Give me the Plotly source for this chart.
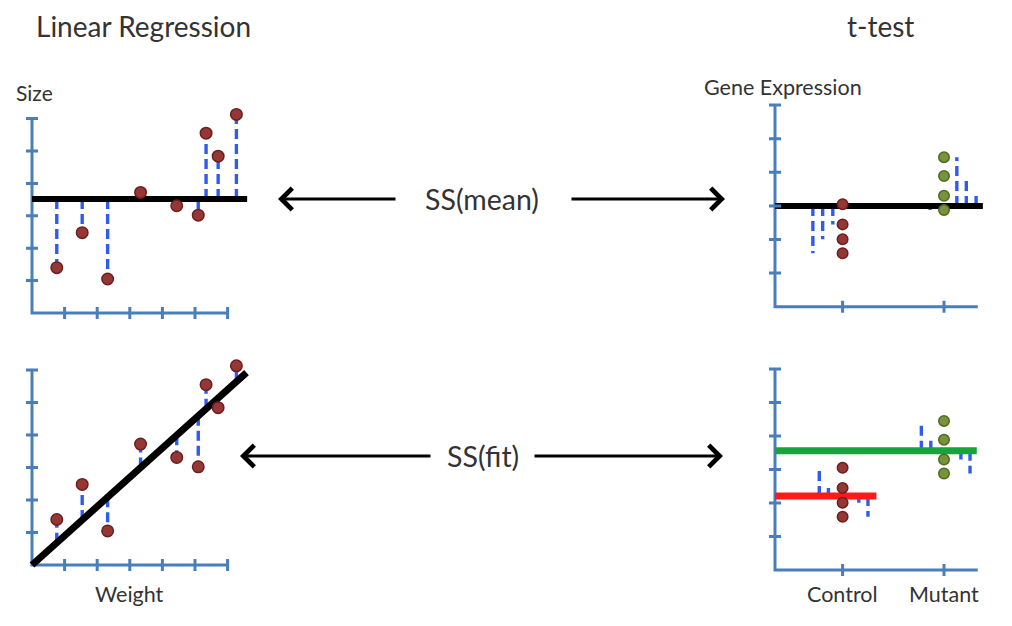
import plotly.graph_objects as go

# browser body has an 8px margin; figure sized to fit inside the 1012x626 window
OFF = 8
W, H = 1012 - 2 * OFF, 626 - 2 * OFF

# ---------------- data ----------------
# Linear regression (same points in both left panels)
weight = [0.76, 1.54, 2.32, 3.33, 4.44, 5.10, 5.34, 5.71, 6.27]
size = [1.40, 2.48, 1.05, 3.72, 3.31, 3.02, 5.55, 4.84, 6.13]
size_mean = 3.52
mean_line_end = 6.6
fit_slope = 0.90
fit_intercept = 0.0
fit_line_end = 6.58
lr_ticks = [1, 2, 3, 4, 5, 6]

# t-test
group_x = [2, 5]
group_labels = ["Control", "Mutant"]
control = [3.05, 2.45, 2.01, 1.59]
mutant = [4.45, 3.89, 3.30, 2.88]
overall_mean = 3.0
overall_line_end = 6.15
control_mean = 2.21
control_line_end = 3.0
mutant_mean = 3.56
mutant_line_end = 5.97
tt_y_ticks = [1, 2, 3, 4, 5, 6]
# horizontal spots where the residuals are drawn (one per point)
ctrl_resid_x_top = [2.39, 1.71, 1.41, 1.12]
mut_resid_x_top = [5.38, 5.66, 5.95, 4.59]
ctrl_resid_x_bot = [1.31, 1.58, 2.48, 2.75]
mut_resid_x_bot = [4.33, 4.61, 5.50, 5.77]

# ---------------- styles ----------------
AXIS_C = "#4a7ebb"
DASH_C = "#2f5cf0"
RED_F, RED_L = "#953735", "#6b1f1f"
GRN_F, GRN_L = "#77933c", "#4f6b22"
TXT = "#333333"
FONT = "Lato"

XR = [-0.5, 7.0]
YR = [-0.5, 6.6]

# panel origins (window pixels) and units (pixels per unit)
panels = {
    1: dict(ox=32, oy=313, ux=32.6, uy=32.4),
    2: dict(ox=32, oy=565, ux=32.6, uy=32.5),
    3: dict(ox=775, oy=306.7, ux=33.8, uy=33.6),
    4: dict(ox=775, oy=570, ux=33.8, uy=33.5),
}


def fx(px):
    return (px - OFF) / W


def fy(py):
    return 1 - (py - OFF) / H


fig = go.Figure()
layout_axes = {}
for i, p in panels.items():
    left = p["ox"] + XR[0] * p["ux"]
    right = p["ox"] + XR[1] * p["ux"]
    bot = p["oy"] - YR[0] * p["uy"]
    top = p["oy"] - YR[1] * p["uy"]
    sx = "" if i == 1 else str(i)
    xr = list(XR)
    r = fx(right)
    if r > 1:
        xr[1] = XR[0] + (XR[1] - XR[0]) * (1 - fx(left)) / (r - fx(left))
        r = 1
    layout_axes["xaxis" + sx] = dict(domain=[fx(left), r], range=xr,
                                     visible=False, anchor="y" + sx, fixedrange=True)
    layout_axes["yaxis" + sx] = dict(domain=[fy(bot), fy(top)], range=YR,
                                     visible=False, anchor="x" + sx, fixedrange=True)


def ax(i):
    s = "" if i == 1 else str(i)
    return "x" + s, "y" + s


def add_axes_frame(i, xticks, yticks):
    xa, ya = ax(i)
    fig.add_trace(go.Scatter(x=[0, 0, 6], y=[6, 0, 0], mode="lines", xaxis=xa, yaxis=ya,
                             line=dict(color=AXIS_C, width=3), hoverinfo="skip",
                             showlegend=False))
    for k in yticks:
        fig.add_shape(type="line", xref=xa, yref=ya, xsizemode="pixel", xanchor=0,
                      x0=-6, x1=6, y0=k, y1=k, line=dict(color=AXIS_C, width=3))
    for k in xticks:
        fig.add_shape(type="line", xref=xa, yref=ya, ysizemode="pixel", yanchor=0,
                      y0=-6, y1=6, x0=k, x1=k, line=dict(color=AXIS_C, width=3))


def add_resid(i, xs, ys, base):
    xa, ya = ax(i)
    px, py = [], []
    for x, y, b in zip(xs, ys, base):
        px += [x, x, None]
        py += [b, y, None]
    fig.add_trace(go.Scatter(x=px, y=py, mode="lines", xaxis=xa, yaxis=ya,
                             line=dict(color=DASH_C, width=3.4, dash="10px,5px"),
                             hoverinfo="skip", showlegend=False))


def add_line(i, x0, x1, y0, y1, color, width):
    xa, ya = ax(i)
    fig.add_trace(go.Scatter(x=[x0, x1], y=[y0, y1], mode="lines", xaxis=xa, yaxis=ya,
                             line=dict(color=color, width=width), hoverinfo="skip",
                             showlegend=False))


def add_points(i, xs, ys, fill, edge, size_px=11):
    xa, ya = ax(i)
    fig.add_trace(go.Scatter(x=xs, y=ys, mode="markers", xaxis=xa, yaxis=ya,
                             marker=dict(size=size_px, color=fill, line=dict(color=edge, width=1.5)),
                             cliponaxis=False, showlegend=False))


# ---- panel 1: linear regression, SS(mean)
add_axes_frame(1, lr_ticks, lr_ticks)
add_resid(1, weight, size, [size_mean] * len(size))
add_line(1, 0, mean_line_end, size_mean, size_mean, "black", 6)
add_points(1, weight, size, RED_F, RED_L, 11.5)

# ---- panel 2: linear regression, SS(fit)
add_axes_frame(2, lr_ticks, lr_ticks)
fit_vals = [fit_intercept + fit_slope * w for w in weight]
add_resid(2, weight, size, fit_vals)
add_line(2, 0, fit_line_end, fit_intercept, fit_intercept + fit_slope * fit_line_end, "black", 7)
add_points(2, weight, size, RED_F, RED_L, 11.5)

# ---- panel 3: t-test, SS(mean)
add_axes_frame(3, group_x, tt_y_ticks)
add_resid(3, ctrl_resid_x_top, control, [overall_mean] * 4)
add_resid(3, mut_resid_x_top, mutant, [overall_mean] * 4)
add_line(3, 0, overall_line_end, overall_mean, overall_mean, "black", 6)
add_points(3, [group_x[0]] * 4, control, RED_F, RED_L, 10.5)
add_points(3, [group_x[1]] * 4, mutant, GRN_F, GRN_L, 10.5)

# ---- panel 4: t-test, SS(fit)
add_axes_frame(4, group_x, tt_y_ticks)
add_resid(4, ctrl_resid_x_bot, control, [control_mean] * 4)
add_resid(4, mut_resid_x_bot, mutant, [mutant_mean] * 4)
add_line(4, 0, mutant_line_end, mutant_mean, mutant_mean, "#1aa33c", 7)
add_line(4, 0, control_line_end, control_mean, control_mean, "#ff1a1a", 7)
add_points(4, [group_x[0]] * 4, control, RED_F, RED_L, 10.5)
add_points(4, [group_x[1]] * 4, mutant, GRN_F, GRN_L, 10.5)

# ---------------- text ----------------
ann = []


def ptext(text, px, py, size_pt, xanchor="center", pad=1):
    ann.append(dict(text=text, x=fx(px), y=fy(py), xref="paper", yref="paper",
                    xanchor=xanchor, yanchor="middle", showarrow=False, borderpad=pad,
                    font=dict(family=FONT, size=size_pt, color=TXT)))


ptext("Linear Regression", 143, 26, 28, pad=0)
ptext("t-test", 880, 26, 28, pad=0)
ptext("Size", 14, 92, 21, "left")
ptext("Gene Expression", 783, 87, 21.5)
ptext("SS(mean)", 482, 199, 28.5)
ptext("SS(fit)", 483, 456, 28.5)

# axis category labels
ann.append(dict(text="Weight", x=3, y=0, xref="x2", yref="y2", yshift=-29, showarrow=False,
                font=dict(family=FONT, size=21.5, color=TXT)))
for gx, gl in zip(group_x, group_labels):
    ann.append(dict(text=gl, x=gx, y=0, xref="x4", yref="y4", yshift=-24, showarrow=False,
                    font=dict(family=FONT, size=21.5, color=TXT)))


def arrow(hx, hy, tx, ty):
    ann.append(dict(text="", x=fx(hx), y=fy(hy), xref="paper", yref="paper",
                    ax=tx - hx, ay=ty - hy, axref="pixel", ayref="pixel",
                    showarrow=True, arrowhead=4, arrowsize=1.4, arrowwidth=3,
                    arrowcolor="black", standoff=0, startstandoff=0))


arrow(278, 199, 397, 199)
arrow(725, 199, 570, 199)
arrow(240, 456, 432, 456)
arrow(723, 456, 533, 456)

fig.update_layout(width=W, height=H, margin=dict(l=0, r=0, t=0, b=0),
                  paper_bgcolor="white", plot_bgcolor="white", showlegend=False,
                  annotations=ann, **layout_axes)

fig.write_html("out.html")
